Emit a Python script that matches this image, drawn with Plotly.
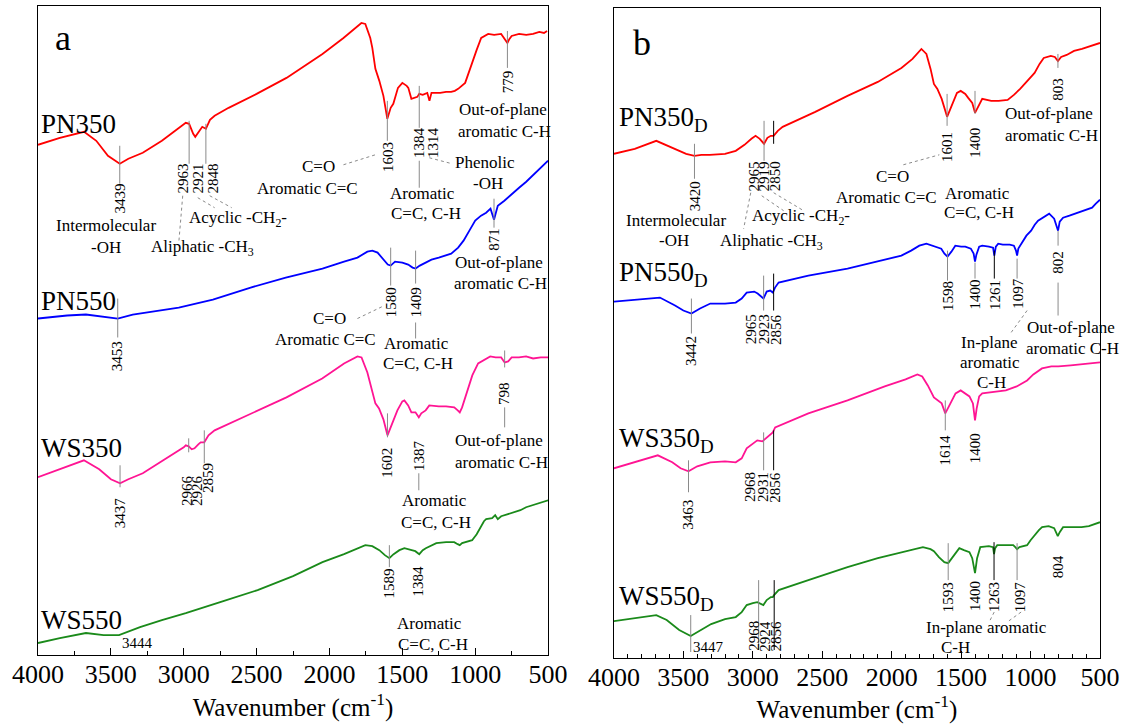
import plotly.graph_objects as go

FONT = "Liberation Serif, Times New Roman, Times, serif"

# ---------------- Panel a spectra (wavenumber cm-1, transmittance a.u.) ----------------
PN350_wn = [4000, 3850, 3684, 3600, 3520, 3439, 3380, 3281, 3150, 2986, 2963, 2935, 2921, 2900, 2873, 2848,
            2820, 2788, 2692, 2500, 2295, 2048, 1904, 1781, 1754, 1720, 1706, 1685, 1658, 1630, 1603, 1580,
            1562, 1530, 1500, 1470, 1459, 1438, 1410, 1397, 1384, 1360, 1329, 1314, 1300, 1281, 1240, 1200,
            1165, 1140, 1117, 1069, 1045, 1021, 990, 959, 911, 870, 822, 801, 779, 765, 750, 699, 650, 603,
            560, 528, 507]
PN350_T = [511, 518, 524, 515, 500, 492, 497, 503, 515, 533, 532, 522, 519, 524, 529, 527,
           536, 540, 548, 562, 578, 602, 618, 633, 632, 618, 608, 587, 575, 560, 537, 548,
           552, 568, 573, 570, 568, 557, 558, 559, 562, 561, 563, 555, 563, 563, 563, 564,
           564, 565, 567, 573, 582, 593, 606, 618, 622, 621, 622, 618, 613, 617, 620, 622, 621, 622,
           624, 623, 625]

PN550_wn = [4000, 3800, 3671, 3560, 3453, 3350, 3200, 3034, 2800, 2541, 2300, 2048, 1900, 1808, 1740, 1706,
            1670, 1630, 1600, 1580, 1550, 1500, 1460, 1430, 1409, 1380, 1339, 1300, 1250, 1200, 1165, 1117,
            1080, 1040, 1000, 960, 925, 895, 871, 860, 845, 800, 750, 699, 650, 600, 575, 540, 500]
PN550_T = [337, 340, 341, 339, 337, 341, 344, 348, 356, 368, 378, 387, 394, 398, 404, 405,
           403, 396, 391, 390, 394, 393, 391, 388, 387, 390, 393, 396, 398, 400, 402, 408,
           415, 425, 435, 440, 443, 447, 436, 442, 450, 455, 461, 468, 474, 481, 485, 490, 495]

WS350_wn = [4000, 3850, 3685, 3580, 3500, 3437, 3380, 3281, 3150, 3000, 2986, 2966, 2945, 2926, 2900, 2884,
            2859, 2830, 2788, 2550, 2295, 2050, 1900, 1808, 1780, 1740, 1706, 1685, 1660, 1630, 1602, 1570,
            1534, 1500, 1486, 1460, 1438, 1410, 1387, 1370, 1340, 1315, 1250, 1200, 1144, 1120, 1106, 1090,
            1060, 1020, 980, 945, 897, 860, 822, 798, 774, 750, 700, 651, 603, 550, 500]
WS350_T = [178, 186, 195, 186, 176, 172, 176, 182, 194, 208, 210, 209, 206, 207, 211, 213,
           213, 220, 225, 241, 258, 277, 292, 299, 298, 283, 265, 252, 247, 236, 220, 232,
           245, 254, 255, 250, 243, 243, 238, 242, 245, 250, 249, 249, 248, 245, 243, 248,
           262, 280, 292, 295, 299, 298, 298, 293, 294, 298, 298, 299, 297, 298, 298]

WS550_wn = [4000, 3850, 3671, 3550, 3444, 3300, 3150, 2986, 2750, 2493, 2250, 2048, 1900, 1754, 1706, 1658,
            1620, 1589, 1560, 1520, 1486, 1440, 1411, 1384, 1360, 1339, 1300, 1267, 1200, 1144, 1120, 1106,
            1090, 1069, 1021, 990, 973, 940, 925, 884, 863, 845, 822, 780, 726, 690, 651, 610, 575, 540, 500]
WS550_T = [12, 17, 22, 20, 20, 28, 35, 42, 53, 65, 79, 93, 101, 110, 109, 105,
           100, 97, 101, 105, 107, 105, 104, 101, 105, 107, 110, 112, 113, 113, 111, 110,
           112, 113, 115, 121, 125, 134, 136, 137, 140, 136, 139, 141, 143, 145, 148, 150, 152, 153, 155]

# ---------------- Panel b spectra ----------------
PN350D_wn = [4000, 3850, 3695, 3580, 3480, 3420, 3370, 3310, 3200, 3123, 3060, 3010, 2980, 2950, 2919, 2895,
             2870, 2850, 2820, 2785, 2550, 2318, 2100, 1930, 1850, 1786, 1750, 1720, 1696, 1671, 1640, 1601,
             1570, 1530, 1503, 1470, 1449, 1420, 1400, 1380, 1348, 1283, 1230, 1165, 1120, 1075, 1020, 971,
             935, 905, 854, 825, 803, 780, 740, 687, 630, 581, 540, 500]
PN350D_T = [505, 510, 518, 511, 505, 503, 504, 504, 505, 508, 514, 520, 523, 520, 515, 521,
            523, 523, 528, 532, 547, 563, 577, 591, 600, 610, 605, 590, 575, 570, 560, 542,
            553, 566, 568, 565, 561, 556, 546, 552, 560, 558, 558, 559, 564, 570, 578, 586,
            595, 601, 603, 602, 598, 602, 604, 608, 610, 612, 614, 616]

PN550D_wn = [4000, 3850, 3669, 3560, 3500, 3442, 3380, 3306, 3200, 3123, 3080, 3044, 2990, 2965, 2923, 2900,
             2875, 2856, 2840, 2814, 2600, 2318, 2100, 1930, 1860, 1801, 1750, 1700, 1643, 1620, 1598, 1570,
             1542, 1500, 1470, 1430, 1410, 1400, 1390, 1370, 1348, 1300, 1270, 1261, 1250, 1233, 1200, 1150,
             1120, 1105, 1097, 1088, 1060, 1030, 996, 970, 946, 900, 866, 830, 802, 790, 766, 720, 658, 600,
             557, 530, 500]
PN550D_T = [357, 359, 361, 353, 348, 345, 350, 355, 355, 356, 360, 366, 367, 365, 360, 367,
            368, 366, 371, 376, 383, 390, 397, 403, 408, 413, 415, 413, 410, 405, 402, 407,
            413, 412, 412, 410, 405, 397, 404, 412, 413, 412, 411, 403, 412, 415, 414, 414,
            413, 408, 403, 410, 416, 423, 428, 434, 438, 442, 445, 440, 428, 437, 441, 443, 446, 449,
            451, 455, 459]

WS350D_wn = [4000, 3850, 3684, 3580, 3520, 3463, 3400, 3306, 3200, 3123, 3080, 3044, 3000, 2968, 2931, 2900,
             2856, 2839, 2600, 2318, 2050, 1900, 1815, 1780, 1740, 1696, 1671, 1640, 1614, 1580, 1540, 1503,
             1470, 1440, 1415, 1400, 1388, 1370, 1348, 1250, 1178, 1100, 1025, 980, 918, 850, 800, 711, 650,
             600, 500]
WS350D_T = [190, 196, 203, 196, 190, 187, 192, 196, 197, 196, 200, 210, 215, 218, 217, 221,
            226, 231, 245, 258, 272, 279, 284, 282, 273, 261, 258, 255, 245, 254, 265, 268,
            265, 262, 255, 238, 250, 262, 265, 267, 268, 272, 278, 284, 290, 292, 292, 293, 294,
            295, 296]

WS550D_wn = [4000, 3850, 3695, 3620, 3530, 3447, 3400, 3300, 3200, 3123, 3080, 3044, 3000, 2968, 2924, 2900,
             2870, 2856, 2847, 2814, 2600, 2318, 2100, 1900, 1775, 1720, 1696, 1660, 1621, 1593, 1560, 1513,
             1480, 1440, 1420, 1400, 1385, 1362, 1300, 1270, 1263, 1255, 1240, 1180, 1125, 1110, 1097, 1080,
             1025, 1000, 971, 940, 917, 870, 830, 804, 790, 766, 700, 633, 580, 540, 500]
WS550D_T = [37, 40, 43, 38, 28, 22, 26, 34, 39, 41, 46, 53, 55, 56, 53, 58,
            61, 61, 63, 68, 78, 91, 100, 107, 111, 109, 107, 101, 96, 95, 101, 110,
            108, 106, 100, 85, 100, 111, 112, 111, 104, 110, 113, 113, 113, 111, 109, 111,
            113, 118, 123, 128, 131, 132, 130, 122, 126, 131, 131, 131, 132, 134, 136]

SERIES_A = [("PN350", PN350_wn, PN350_T, "#ff0000"),
            ("PN550", PN550_wn, PN550_T, "#0000ff"),
            ("WS350", WS350_wn, WS350_T, "#ff1493"),
            ("WS550", WS550_wn, WS550_T, "#1a8a1a")]
SERIES_B = [("PN350D", PN350D_wn, PN350D_T, "#ff0000"),
            ("PN550D", PN550D_wn, PN550D_T, "#0000ff"),
            ("WS350D", WS350D_wn, WS350D_T, "#ff1493"),
            ("WS550D", WS550D_wn, WS550D_T, "#1a8a1a")]

TICKS = [4000, 3500, 3000, 2500, 2000, 1500, 1000, 500]

fig = go.Figure()
for name, wn, t, col in SERIES_A:
    fig.add_trace(go.Scatter(x=wn, y=t, mode="lines", name=name, line=dict(color=col, width=1.8),
                             xaxis="x", yaxis="y", showlegend=False, hoverinfo="skip"))
for name, wn, t, col in SERIES_B:
    fig.add_trace(go.Scatter(x=wn, y=t, mode="lines", name=name, line=dict(color=col, width=1.8),
                             xaxis="x2", yaxis="y2", showlegend=False, hoverinfo="skip"))

ann = []
shapes = []
GRAY = "#8a8a8a"


def refs(p):
    return ("x", "y") if p == "a" else ("x2", "y2")


def vline(p, w, y0, y1, color=GRAY):
    xr, yr = refs(p)
    shapes.append(dict(type="line", xref=xr, yref=yr, x0=w, x1=w, y0=y0, y1=y1,
                       line=dict(color=color, width=1)))


def dline(p, x0, y0, x1, y1):
    xr, yr = refs(p)
    shapes.append(dict(type="line", xref=xr, yref=yr, x0=x0, x1=x1, y0=y0, y1=y1,
                       line=dict(color=GRAY, width=1, dash="dot")))


def rtext(p, w, y, text, size=15):
    xr, yr = refs(p)
    ann.append(dict(xref=xr, yref=yr, x=w, y=y, text=text, textangle=-90, showarrow=False,
                    font=dict(family=FONT, size=size, color="black"), xanchor="center", yanchor="middle"))


def htext(p, w, y, text, size=17, xanchor="center"):
    xr, yr = refs(p)
    ann.append(dict(xref=xr, yref=yr, x=w, y=y, text=text, showarrow=False,
                    font=dict(family=FONT, size=size, color="black"), xanchor=xanchor, yanchor="middle"))


# ---------------- Panel a annotations ----------------
htext("a", 3829, 618, "a", size=36)
htext("a", 3995, 532, "PN350", size=27, xanchor="left")
htext("a", 3995, 355, "PN550", size=27, xanchor="left")
htext("a", 3995, 207, "WS350", size=27, xanchor="left")
htext("a", 3995, 35, "WS550", size=27, xanchor="left")

# PN350
vline("a", 3439, 510, 472); rtext("a", 3439, 457, "3439")
vline("a", 2963, 535, 492); vline("a", 2848, 532, 492)
rtext("a", 3007, 477, "2963"); rtext("a", 2904, 477, "2921"); rtext("a", 2801, 477, "2848")
vline("a", 1603, 555, 515); rtext("a", 1603, 499, "1603")
vline("a", 1384, 570, 528); rtext("a", 1384, 513, "1384"); vline("a", 1384, 495, 468)
rtext("a", 1288, 513, "1314")
vline("a", 779, 625, 588); rtext("a", 779, 574, "779")
htext("a", 3534, 430, "Intermolecular"); htext("a", 3534, 408, "-OH")
htext("a", 2630, 437, "Acyclic -CH<sub>2</sub>-")
htext("a", 2870, 408, "Aliphatic -CH<sub>3</sub>")
htext("a", 2075, 489, "C=O"); htext("a", 2151, 467, "Aromatic C=C")
htext("a", 1363, 462, "Aromatic"); htext("a", 1336, 442, "C=C, C-H")
htext("a", 932, 493, "Phenolic"); htext("a", 911, 472, "-OH")
htext("a", 808, 546, "Out-of-plane"); htext("a", 801, 524, "aromatic C-H")
dline("a", 1904, 491, 1685, 501)
dline("a", 3007, 460, 3034, 413)
dline("a", 2904, 458, 2788, 448)
dline("a", 2822, 460, 2671, 448)
dline("a", 1315, 498, 1158, 492)

# PN550
vline("a", 3453, 357, 318); rtext("a", 3453, 299, "3453")
vline("a", 1580, 408, 370); rtext("a", 1580, 353, "1580")
vline("a", 1409, 405, 372); rtext("a", 1409, 353, "1409"); vline("a", 1409, 333, 317)
vline("a", 871, 457, 428); rtext("a", 871, 416, "871")
htext("a", 2000, 337, "C=O"); htext("a", 2027, 316, "Aromatic C=C")
dline("a", 1808, 337, 1623, 350)
htext("a", 1404, 312, "Aromatic"); htext("a", 1390, 292, "C=C, C-H")
htext("a", 836, 393, "Out-of-plane"); htext("a", 829, 372, "aromatic C-H")

# WS350
vline("a", 3437, 190, 168); rtext("a", 3437, 142, "3437")
vline("a", 2966, 217, 203); vline("a", 2859, 225, 192)
rtext("a", 2979, 165, "2966"); rtext("a", 2904, 165, "2926"); rtext("a", 2829, 177, "2859")
vline("a", 1602, 242, 218); rtext("a", 1602, 193, "1602")
rtext("a", 1387, 200, "1387"); vline("a", 1387, 182, 165)
htext("a", 1281, 155, "Aromatic"); htext("a", 1267, 133, "C=C, C-H")
vline("a", 798, 305, 288); rtext("a", 798, 262, "798"); vline("a", 798, 248, 228)
htext("a", 836, 215, "Out-of-plane"); htext("a", 822, 193, "aromatic C-H")

# WS550
htext("a", 3315, 12, "3444", size=15)
vline("a", 1589, 110, 88); rtext("a", 1589, 72, "1589")
rtext("a", 1390, 74, "1384")
htext("a", 1315, 32, "Aromatic"); htext("a", 1288, 11, "C=C, C-H")

# ---------------- Panel b annotations ----------------
htext("b", 3799, 616, "b", size=36)
htext("b", 3978, 540, "PN350<sub>D</sub>", size=27, xanchor="left")
htext("b", 3978, 385, "PN550<sub>D</sub>", size=27, xanchor="left")
htext("b", 3978, 218, "WS350<sub>D</sub>", size=27, xanchor="left")
htext("b", 3978, 60, "WS550<sub>D</sub>", size=27, xanchor="left")

# PN350_D
vline("b", 3420, 515, 480); rtext("b", 3420, 463, "3420")
vline("b", 2919, 538, 498); vline("b", 2850, 538, 515, color="black")
rtext("b", 2994, 482, "2965"); rtext("b", 2922, 482, "2919"); rtext("b", 2843, 482, "2850")
vline("b", 1601, 565, 533); rtext("b", 1601, 512, "1601")
vline("b", 1400, 568, 545); rtext("b", 1400, 516, "1400")
vline("b", 803, 605, 591); rtext("b", 803, 570, "803")
htext("b", 867, 545, "Out-of-plane"); htext("b", 852, 523, "aromatic C-H")
htext("b", 1995, 482, "C=O"); htext("b", 2038, 461, "Aromatic C=C")
dline("b", 1916, 494, 1657, 504)
htext("b", 1384, 465, "Aromatic"); htext("b", 1370, 446, "C=C, C-H")
htext("b", 3554, 438, "Intermolecular"); htext("b", 3569, 418, "-OH")
htext("b", 2656, 442, "Acyclic -CH<sub>2</sub>-")
htext("b", 2864, 417, "Aliphatic -CH<sub>3</sub>")
dline("b", 3015, 466, 3066, 430)
dline("b", 2936, 463, 2778, 448)
dline("b", 2850, 466, 2634, 448)

# PN550_D
vline("b", 3442, 360, 325); rtext("b", 3442, 308, "3442")
vline("b", 2922, 383, 348); vline("b", 2850, 385, 348, color="black")
rtext("b", 3015, 329, "2965"); rtext("b", 2922, 329, "2923"); rtext("b", 2836, 329, "2856")
vline("b", 1598, 408, 378); rtext("b", 1598, 362, "1598")
vline("b", 1400, 396, 380); rtext("b", 1400, 364, "1400")
vline("b", 1261, 408, 380, color="black"); rtext("b", 1261, 364, "1261")
vline("b", 1097, 400, 380); rtext("b", 1097, 365, "1097")
dline("b", 1025, 348, 1140, 326)
vline("b", 802, 428, 413); rtext("b", 802, 396, "802"); vline("b", 802, 376, 343)
htext("b", 1298, 316, "In-plane"); htext("b", 1290, 296, "aromatic"); htext("b", 1283, 276, "C-H")
htext("b", 708, 331, "Out-of-plane"); htext("b", 701, 310, "aromatic C-H")

# WS350_D
vline("b", 3463, 198, 166); rtext("b", 3463, 143, "3463")
vline("b", 2922, 226, 188); vline("b", 2850, 228, 188, color="black")
rtext("b", 3015, 171, "2968"); rtext("b", 2922, 171, "2931"); rtext("b", 2836, 171, "2856")
vline("b", 1614, 258, 228); rtext("b", 1614, 208, "1614")
rtext("b", 1400, 210, "1400")

# WS550_D
vline("b", 3447, 43, 6); htext("b", 3317, 11, "3447", size=15)
vline("b", 2958, 78, 8); vline("b", 2846, 78, 8, color="black")
rtext("b", 2994, 22, "2968"); rtext("b", 2915, 22, "2924"); rtext("b", 2836, 22, "2856")
vline("b", 1593, 115, 78); rtext("b", 1593, 61, "1593")
rtext("b", 1400, 62, "1400")
vline("b", 1263, 116, 78, color="black"); rtext("b", 1263, 61, "1263")
vline("b", 1097, 115, 78); rtext("b", 1075, 61, "1097")
rtext("b", 802, 91, "804")
htext("b", 1319, 31, "In-plane aromatic"); htext("b", 1542, 11, "C-H")
dline("b", 1262, 46, 1298, 36)
dline("b", 1068, 46, 1168, 36)

xcommon = dict(range=[4000, 500], autorange=False, tickvals=TICKS, ticktext=[str(t) for t in TICKS],
               ticks="inside", ticklen=7, tickwidth=1.2, tickcolor="black",
               showline=True, mirror=True, linecolor="black", linewidth=1.3,
               showgrid=False, zeroline=False, ticklabelstandoff=-4,
               tickfont=dict(family=FONT, size=26, color="black"),
               title=dict(text="Wavenumber (cm<sup>-1</sup>)", font=dict(family=FONT, size=25, color="black"),
                          standoff=6))
ycommon = dict(showticklabels=False, ticks="", showline=True, mirror=True, linecolor="black",
               linewidth=1.3, showgrid=False, zeroline=False, autorange=False)

fig.update_layout(
    width=1125, height=724,
    margin=dict(l=38, r=23, t=5, b=66),
    paper_bgcolor="white", plot_bgcolor="white",
    font=dict(family=FONT),
    xaxis=dict(domain=[0, 0.4803], anchor="y",
               minor=dict(dtick=250, tick0=500, ticks="inside", ticklen=4, tickcolor="black"), **xcommon),
    yaxis=dict(domain=[0.0046, 1], range=[0, 650], anchor="x", **ycommon),
    xaxis2=dict(domain=[0.5423, 1], anchor="y2",
                minor=dict(dtick=100, tick0=500, ticks="inside", ticklen=4, tickcolor="black"), **xcommon),
    yaxis2=dict(domain=[0, 0.9969], range=[0, 651], anchor="x2", **ycommon),
    annotations=ann,
    shapes=shapes,
)

fig.write_html("out.html")
